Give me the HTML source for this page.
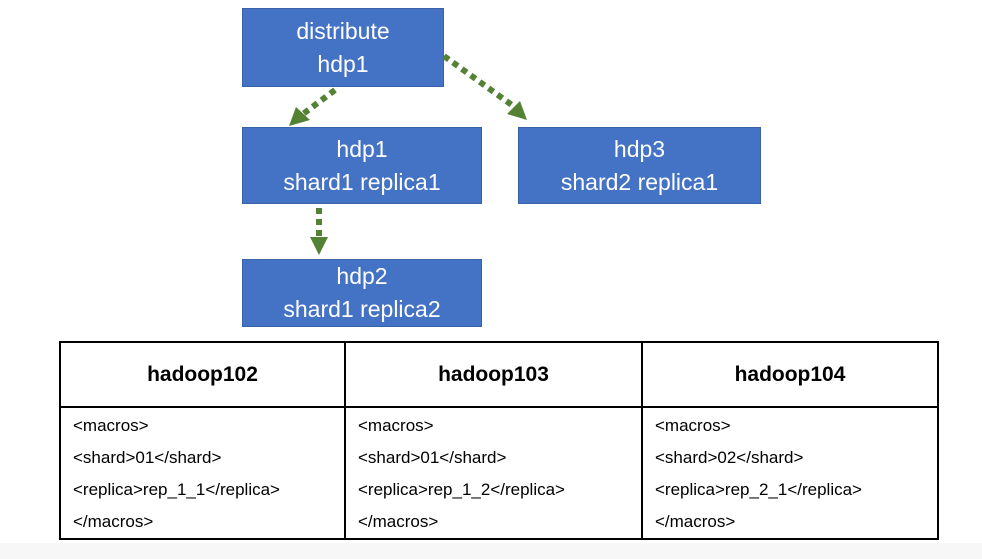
<!DOCTYPE html>
<html><head><style>
body{margin:0;width:982px;height:559px;background:#fff;position:relative;overflow:hidden;font-family:"Liberation Sans","DejaVu Sans",sans-serif}
.b{position:absolute;background:#4472C4;border:1px solid #3a62a8;color:#fff;font-size:23px;line-height:33px;text-align:center;box-sizing:border-box;display:flex;flex-direction:column;justify-content:center}
table{position:absolute;left:59px;top:341px;border-collapse:collapse;width:880px;table-layout:fixed}
td{border:2px solid #000;font-size:17px;color:#000;vertical-align:top;padding:2px 0 0 0}
th{border:2px solid #000;height:63px;font-size:21px;font-weight:bold;padding:0}
td div{height:32px;line-height:32px;padding-left:12px;white-space:nowrap}
</style></head><body>
<div style="position:absolute;left:0;top:543px;width:982px;height:16px;background:#f7f7f7"></div>
<div class="b" style="left:242px;top:8px;width:202px;height:79px">distribute<br>hdp1</div>
<div class="b" style="left:242px;top:127px;width:240px;height:77px">hdp1<br>shard1 replica1</div>
<div class="b" style="left:518px;top:127px;width:243px;height:77px">hdp3<br>shard2 replica1</div>
<div class="b" style="left:242px;top:259px;width:240px;height:68px">hdp2<br>shard1 replica2</div>
<svg width="982" height="559" style="position:absolute;left:0;top:0">
<g stroke="#548235" stroke-width="6" stroke-dasharray="6,5" fill="none">
<line x1="335" y1="90" x2="303" y2="114"/>
<line x1="444" y1="56" x2="516" y2="108"/>
<line x1="319" y1="208" x2="319" y2="240"/>
</g>
<g fill="#548235">
<polygon points="289,126 296,107 310,120"/>
<polygon points="527,120 507,114 520,101"/>
<polygon points="310,237 328,237 319,255"/>
</g>
</svg>
<table>
<colgroup><col style="width:285px"><col style="width:297px"><col></colgroup>
<tr><th>hadoop102</th><th>hadoop103</th><th>hadoop104</th></tr>
<tr><td><div>&lt;macros&gt;</div><div>&lt;shard&gt;01&lt;/shard&gt;</div><div>&lt;replica&gt;rep_1_1&lt;/replica&gt;</div><div>&lt;/macros&gt;</div></td>
<td><div>&lt;macros&gt;</div><div>&lt;shard&gt;01&lt;/shard&gt;</div><div>&lt;replica&gt;rep_1_2&lt;/replica&gt;</div><div>&lt;/macros&gt;</div></td>
<td><div>&lt;macros&gt;</div><div>&lt;shard&gt;02&lt;/shard&gt;</div><div>&lt;replica&gt;rep_2_1&lt;/replica&gt;</div><div>&lt;/macros&gt;</div></td></tr>
</table>
</body></html>
